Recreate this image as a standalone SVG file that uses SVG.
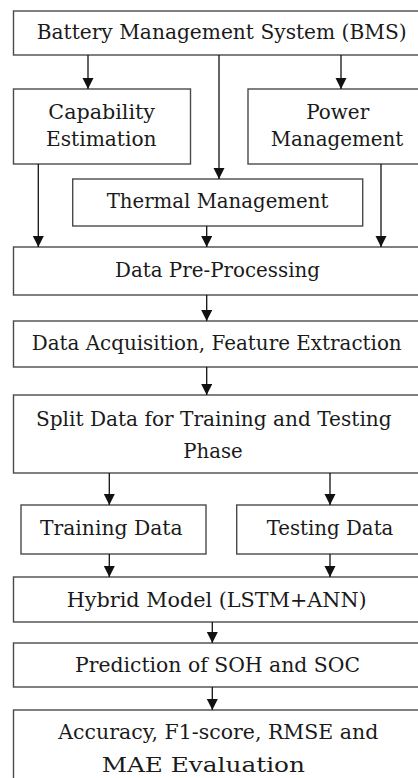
<svg xmlns="http://www.w3.org/2000/svg" width="418" height="778" viewBox="0 0 418 778">
<style>
.box{fill:#fff;stroke:#4a4a4a;stroke-width:1.4}
.t{font-family:'DejaVu Serif','Liberation Serif','Times New Roman',serif;font-size:20px;fill:#1a1a1a;text-anchor:middle}
.c{stroke:#111;stroke-width:1.3;fill:none;marker-end:url(#ah)}
</style>
<defs>
<marker id="ah" markerUnits="userSpaceOnUse" markerWidth="12" markerHeight="12" refX="11" refY="5.5" orient="auto">
<path d="M0,0 L11,5.5 L0,11 z" fill="#111"/>
</marker>
</defs>
<rect width="418" height="778" fill="#fff"/>
<g id="bms"><rect class="box" x="13.5" y="11" width="420" height="44"/><text class="t" x="221.7" y="38.5" textLength="370" lengthAdjust="spacingAndGlyphs">Battery Management System (BMS)</text></g>
<g id="capability"><rect class="box" x="13.5" y="89" width="177" height="75"/><text class="t" x="101.7" y="119" textLength="106.7" lengthAdjust="spacingAndGlyphs">Capability</text><text class="t" x="101.3" y="145.7" textLength="110.7" lengthAdjust="spacingAndGlyphs">Estimation</text></g>
<g id="power"><rect class="box" x="248" y="89" width="185" height="75"/><text class="t" x="337.7" y="119" textLength="63" lengthAdjust="spacingAndGlyphs">Power</text><text class="t" x="337" y="146" textLength="132.7" lengthAdjust="spacingAndGlyphs">Management</text></g>
<g id="thermal"><rect class="box" x="72.7" y="179" width="290" height="47"/><text class="t" x="217.5" y="208.3" textLength="221.7" lengthAdjust="spacingAndGlyphs">Thermal Management</text></g>
<g id="preprocessing"><rect class="box" x="13.5" y="247" width="420" height="48"/><text class="t" x="217.5" y="277" textLength="205" lengthAdjust="spacingAndGlyphs">Data Pre-Processing</text></g>
<g id="acquisition"><rect class="box" x="13.5" y="321" width="420" height="46"/><text class="t" x="216.7" y="350" textLength="370" lengthAdjust="spacingAndGlyphs">Data Acquisition, Feature Extraction</text></g>
<g id="split"><rect class="box" x="13.5" y="395" width="420" height="78"/><text class="t" x="213.8" y="426" textLength="355.7" lengthAdjust="spacingAndGlyphs">Split Data for Training and Testing</text><text class="t" x="213" y="458.3" textLength="59.3" lengthAdjust="spacingAndGlyphs">Phase</text></g>
<g id="training"><rect class="box" x="21" y="505" width="185" height="49"/><text class="t" x="111.3" y="535" textLength="142.7" lengthAdjust="spacingAndGlyphs">Training Data</text></g>
<g id="testing"><rect class="box" x="236.7" y="505" width="200" height="49"/><text class="t" x="330" y="535" textLength="126.7" lengthAdjust="spacingAndGlyphs">Testing Data</text></g>
<g id="hybrid"><rect class="box" x="13.5" y="577" width="420" height="45"/><text class="t" x="216.7" y="606.7" textLength="300" lengthAdjust="spacingAndGlyphs">Hybrid Model (LSTM+ANN)</text></g>
<g id="prediction"><rect class="box" x="13.5" y="643" width="420" height="44"/><text class="t" x="217.5" y="671.7" textLength="285" lengthAdjust="spacingAndGlyphs">Prediction of SOH and SOC</text></g>
<g id="evaluation"><rect class="box" x="13.5" y="710" width="420" height="90"/><text class="t" x="218.3" y="739.3" textLength="320" lengthAdjust="spacingAndGlyphs">Accuracy, F1-score, RMSE and</text><text class="t" x="203.3" y="771.7" textLength="203.3" lengthAdjust="spacingAndGlyphs">MAE Evaluation</text></g>
<g id="connectors">
<line class="c" x1="88" y1="55" x2="88" y2="89"/>
<line class="c" x1="219" y1="55" x2="219" y2="179"/>
<line class="c" x1="341" y1="55" x2="341" y2="89"/>
<line class="c" x1="38.3" y1="164" x2="38.3" y2="247"/>
<line class="c" x1="206.7" y1="226" x2="206.7" y2="247"/>
<line class="c" x1="381" y1="164" x2="381" y2="247"/>
<line class="c" x1="206.7" y1="295" x2="206.7" y2="321"/>
<line class="c" x1="206.7" y1="367" x2="206.7" y2="395"/>
<line class="c" x1="109.3" y1="473" x2="109.3" y2="505"/>
<line class="c" x1="330" y1="473" x2="330" y2="505"/>
<line class="c" x1="109.3" y1="554" x2="109.3" y2="577"/>
<line class="c" x1="330" y1="554" x2="330" y2="577"/>
<line class="c" x1="212.3" y1="622" x2="212.3" y2="643"/>
<line class="c" x1="212.3" y1="687" x2="212.3" y2="710"/>
</g>
</svg>
